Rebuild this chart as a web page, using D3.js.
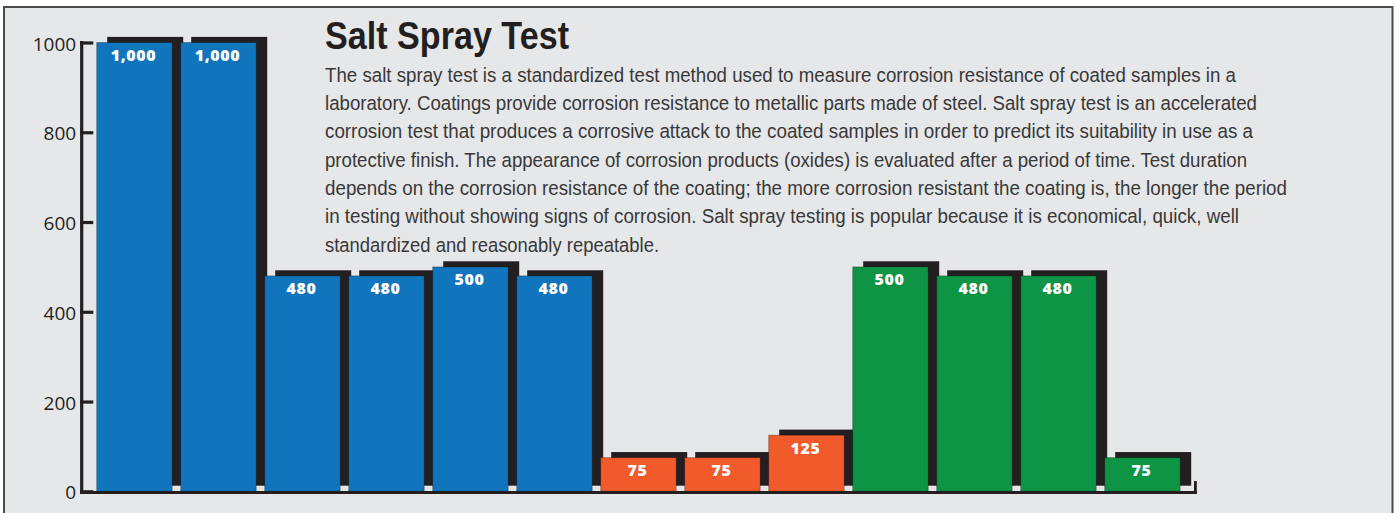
<!DOCTYPE html>
<html>
<head>
<meta charset="utf-8">
<script src="https://cdn.jsdelivr.net/npm/d3@7"></script>
<style>
  html, body { margin: 0; padding: 0; background: #ffffff; }
  svg { display: block; }
</style>
</head>
<body>
<svg id="chart" width="1399" height="513"></svg>
<script>
// Salt spray hours per coated sample, grouped by coating family
const samples = ["S1", "S2", "S3", "S4", "S5", "S6", "S7", "S8", "S9", "S10", "S11", "S12", "S13"];
const hours = [1000, 1000, 480, 480, 500, 480, 75, 75, 125, 500, 480, 480, 75];
const families = ["A", "A", "A", "A", "A", "A", "B", "B", "B", "C", "C", "C", "C"];
const familyNames = ["A", "B", "C"];
const familyColors = ["#1075bc", "#f15a2a", "#0d9444"];
const yTicks = [0, 200, 400, 600, 800, 1000];

const title = "Salt Spray Test";
const paragraph = [
  "The salt spray test is a standardized test method used to measure corrosion resistance of coated samples in a",
  "laboratory. Coatings provide corrosion resistance to metallic parts made of steel. Salt spray test is an accelerated",
  "corrosion test that produces a corrosive attack to the coated samples in order to predict its suitability in use as a",
  "protective finish. The appearance of corrosion products (oxides) is evaluated after a period of time. Test duration",
  "depends on the corrosion resistance of the coating; the more corrosion resistant the coating is, the longer the period",
  "in testing without showing signs of corrosion. Salt spray testing is popular because it is economical, quick, well",
  "standardized and reasonably repeatable."
];
// right edge of each paragraph line
const lineEnds = [1236, 1257, 1253, 1247, 1287, 1239, 659];

const svg = d3.select("#chart");
const ink = "#231f20";

// panel
svg.append("rect")
  .attr("x", 4).attr("y", 7)
  .attr("width", 1388.5).attr("height", 530)
  .attr("fill", "#e6e7e8")
  .attr("stroke", "#4a4a4a")
  .attr("stroke-width", 2);

const x = d3.scaleBand()
  .domain(samples)
  .range([96.7, 1180.2])
  .paddingInner(0.101)
  .paddingOuter(0);

const y = d3.scaleLinear()
  .domain([0, 1000])
  .range([491.3, 42.5]);

const color = d3.scaleOrdinal().domain(familyNames).range(familyColors);

const data = samples.map((s, i) => ({ s, v: hours[i], f: families[i] }));

// drop shadows behind each bar
const sdx = 10.5, sdy = -5.6;
svg.append("g").selectAll("rect")
  .data(data)
  .join("rect")
  .attr("x", d => x(d.s) + sdx)
  .attr("y", d => y(d.v) + sdy)
  .attr("width", x.bandwidth() + 0.5)
  .attr("height", d => y(0) - y(d.v))
  .attr("fill", ink);

// bars
svg.append("g").selectAll("rect")
  .data(data)
  .join("rect")
  .attr("x", d => x(d.s))
  .attr("y", d => y(d.v))
  .attr("width", x.bandwidth())
  .attr("height", d => y(0) - y(d.v))
  .attr("fill", d => color(d.f))
  .attr("stroke", "rgba(0,0,0,0.28)")
  .attr("stroke-width", 1);

// value labels
const fmt = d3.format(",");
svg.append("g").selectAll("text")
  .data(data)
  .join("text")
  .attr("x", d => x(d.s) + x.bandwidth() / 2 - 1)
  .attr("y", d => y(d.v) + 18.5)
  .attr("text-anchor", "middle")
  .attr("fill", "#ffffff")
  .attr("font-family", "'Open Sans', 'DejaVu Sans', sans-serif")
  .attr("font-weight", 800)
  .attr("font-size", 16)
  .attr("letter-spacing", 0.6)
  .text(d => fmt(d.v));

// y axis with inward ticks
const axisX = 81.7;
const yAxis = d3.axisLeft(y)
  .tickValues(yTicks)
  .tickSize(-11.6)
  .tickPadding(5.5)
  .tickFormat(d3.format("d"));

const gy = svg.append("g")
  .attr("transform", `translate(${axisX},0)`)
  .call(yAxis);
gy.select(".domain").remove();
gy.selectAll(".tick line")
  .attr("stroke", ink)
  .attr("stroke-width", 3.2)
  .attr("x1", -1.6);
gy.selectAll(".tick text")
  .attr("fill", ink)
  .attr("font-family", "'Open Sans', 'DejaVu Sans', sans-serif")
  .attr("font-size", 19)
  .attr("dy", "0.4em");

// axis lines
svg.append("line")
  .attr("x1", axisX).attr("x2", axisX)
  .attr("y1", y(1000) - 1.6).attr("y2", 494)
  .attr("stroke", ink).attr("stroke-width", 3.2);
svg.append("line")
  .attr("x1", 80).attr("x2", 1196.8)
  .attr("y1", 492.6).attr("y2", 492.6)
  .attr("stroke", ink).attr("stroke-width", 3);
svg.append("line")
  .attr("x1", 1195.4).attr("x2", 1195.4)
  .attr("y1", 481).attr("y2", 494)
  .attr("stroke", ink).attr("stroke-width", 2.8);

// title and description
svg.append("text")
  .attr("x", 325).attr("y", 49.3)
  .attr("fill", ink)
  .attr("font-family", "'Liberation Sans Narrow', 'Liberation Sans', Arial, sans-serif")
  .attr("font-weight", 700)
  .attr("font-size", 38)
  .attr("textLength", 244)
  .attr("lengthAdjust", "spacingAndGlyphs")
  .text(title);

svg.append("g").selectAll("text")
  .data(paragraph)
  .join("text")
  .attr("x", 325)
  .attr("y", (d, i) => 81.7 + i * 28.33)
  .attr("fill", "#383838")
  .attr("font-family", "'Liberation Sans Narrow', 'Liberation Sans', Arial, sans-serif")
  .attr("font-size", 20.5)
  .attr("textLength", (d, i) => lineEnds[i] - 325)
  .attr("lengthAdjust", "spacingAndGlyphs")
  .text(d => d);
</script>
</body>
</html>
